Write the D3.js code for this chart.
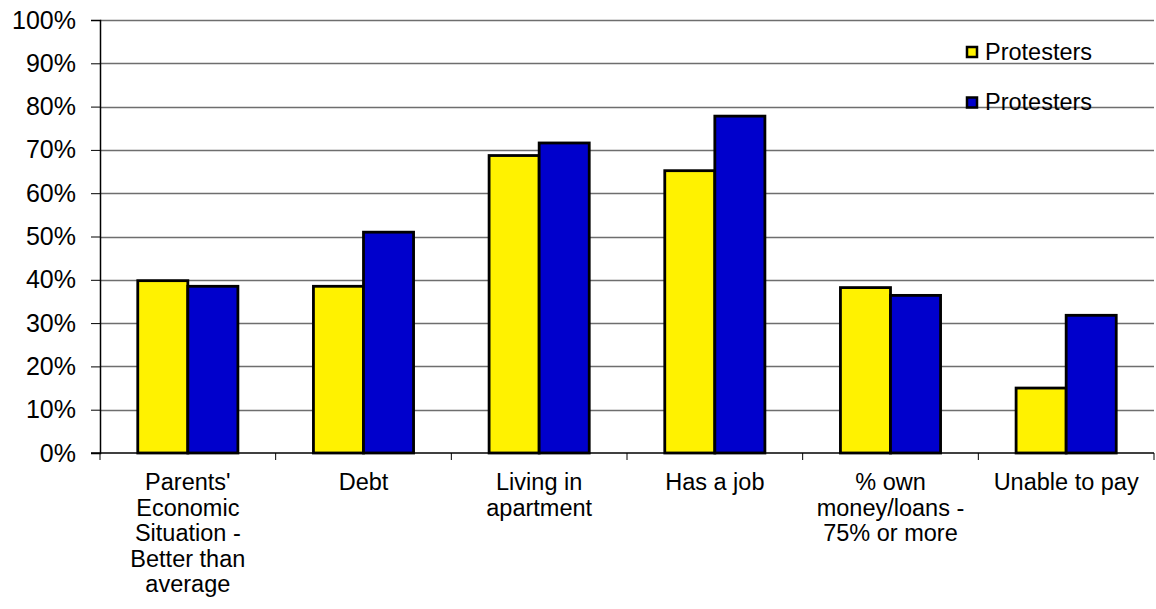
<html>
<head>
<script src="https://cdnjs.cloudflare.com/ajax/libs/d3/7.8.5/d3.min.js"></script>
<style>
  body { margin: 0; background: white; }
  text { font-family: "Liberation Sans", Arial, sans-serif; fill: black; }
</style>
</head>
<body></body>
<script>
// chart data
var categories = ["Parents' Economic Situation", "Debt", "Living in apartment", "Has a job", "% own money/loans", "Unable to pay"];
var categoryLines = [
  ["Parents'", "Economic", "Situation -", "Better than", "average"],
  ["Debt"],
  ["Living in", "apartment"],
  ["Has a job"],
  ["% own", "money/loans -", "75% or more"],
  ["Unable to pay"]
];
var seriesNames = ["Protesters", "Protesters"];
var seriesColors = ["#FFF200", "#0000CC"];
var series1 = [39.8, 38.5, 68.7, 65.2, 38.2, 15.0];
var series2 = [38.5, 51.0, 71.6, 77.8, 36.4, 31.8];
var yTicks = [0, 10, 20, 30, 40, 50, 60, 70, 80, 90, 100];

var screen = {width: 1156, height: 609};
var plot = {left: 100, right: 1154, top: 20, bottom: 453};

var svg = d3.select("body").append("svg")
  .attr("width", screen.width)
  .attr("height", screen.height);

var x0 = d3.scaleBand().domain(categories).range([plot.left, plot.right]).padding(0);
var gap = x0.bandwidth() * 0.215;
var x1 = d3.scaleBand().domain([0, 1]).range([gap, x0.bandwidth() - gap]).padding(0);
var y = d3.scaleLinear().domain([0, 100]).range([plot.bottom, plot.top]);

// gridlines
svg.append("g").selectAll("line").data(yTicks.filter(function (d) { return d > 0; }))
  .enter().append("line")
  .attr("x1", plot.left).attr("x2", plot.right)
  .attr("y1", function (d) { return Math.round(y(d)) + 0.5; })
  .attr("y2", function (d) { return Math.round(y(d)) + 0.5; })
  .attr("stroke", "#6e6e6e").attr("stroke-width", 1.4);

// bars
var rows = categories.map(function (c, i) { return {cat: c, vals: [series1[i], series2[i]]}; });
var groups = svg.append("g").selectAll("g").data(rows).enter().append("g")
  .attr("transform", function (d) { return "translate(" + x0(d.cat) + ",0)"; });
groups.selectAll("rect").data(function (d) { return d.vals.map(function (v, k) { return {k: k, v: v}; }); })
  .enter().append("rect")
  .attr("x", function (d) { return x1(d.k); })
  .attr("width", x1.bandwidth())
  .attr("y", function (d) { return y(d.v); })
  .attr("height", function (d) { return plot.bottom - y(d.v); })
  .attr("fill", function (d) { return seriesColors[d.k]; })
  .attr("stroke", "black").attr("stroke-width", 2.8);

// y axis
var yAxis = svg.append("g").attr("transform", "translate(" + plot.left + ",0)")
  .call(d3.axisLeft(y).tickValues(yTicks).tickFormat(function (d) { return d + "%"; }).tickSize(9).tickPadding(15));
yAxis.select(".domain").attr("stroke", "black").attr("stroke-width", 1.5);
yAxis.selectAll(".tick line").attr("stroke", "black");
yAxis.selectAll("text").style("font-size", "25px").attr("font-family", null);

// x axis
var xAxis = svg.append("g").attr("transform", "translate(0," + plot.bottom + ")");
xAxis.append("line").attr("x1", plot.left - 9).attr("x2", plot.right)
  .attr("stroke", "black").attr("stroke-width", 1.5);
xAxis.selectAll(".xtick").data(categories).enter().append("line")
  .attr("x1", function (d) { return x0(d) + x0.bandwidth(); })
  .attr("x2", function (d) { return x0(d) + x0.bandwidth(); })
  .attr("y1", 0).attr("y2", 7).attr("stroke", "black");
xAxis.append("line").attr("x1", plot.left).attr("x2", plot.left).attr("y1", 0).attr("y2", 7).attr("stroke", "black");

var labels = svg.append("g").selectAll("text").data(categories).enter().append("text")
  .attr("text-anchor", "middle")
  .style("font-size", "23.5px")
  .attr("x", function (d) { return x0(d) + x0.bandwidth() / 2; })
  .attr("y", 490);
labels.selectAll("tspan").data(function (d, i) { return categoryLines[i]; })
  .enter().append("tspan")
  .attr("x", function () { var p = this.parentNode; return p.getAttribute("x"); })
  .attr("dy", function (d, i) { return i === 0 ? 0 : 25.6; })
  .text(function (d) { return d; });

// legend
var legend = svg.append("g").selectAll("g").data(seriesNames).enter().append("g")
  .attr("transform", function (d, i) { return "translate(967," + (47 + i * 50.5) + ")"; });
legend.append("rect").attr("width", 10).attr("height", 10)
  .attr("fill", function (d, i) { return seriesColors[i]; })
  .attr("stroke", "black").attr("stroke-width", 2.5);
legend.append("text").attr("x", 18).attr("y", 12.5)
  .style("font-size", "23.5px")
  .text(function (d) { return d; });
</script>
</html>
